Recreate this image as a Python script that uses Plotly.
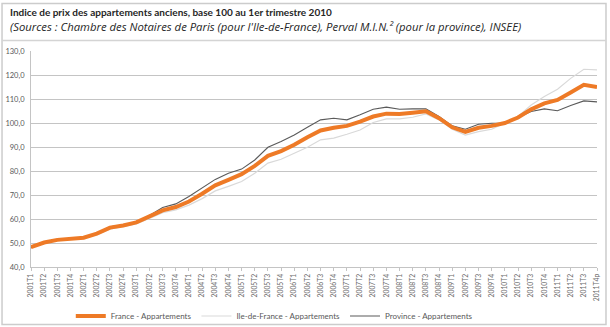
import plotly.graph_objects as go

# Quarter labels, 2001T1 .. 2011T4p (last quarter provisional)
quarters = [f"{y}T{q}" for y in range(2001, 2012) for q in range(1, 5)]
quarters[-1] = "2011T4p"

# Price indices, base 100 = 2010T1
france = [48.3, 50.2, 51.3, 51.9,
          52.2, 53.9, 56.4, 57.3,
          58.6, 61.1, 63.6, 65.0,
          67.3, 70.5, 74.0, 76.3,
          78.7, 82.1, 86.3, 88.3,
          90.9, 94.1, 96.9, 98.0,
          98.8, 100.6, 102.7, 103.9,
          103.8, 104.3, 104.9, 102.0,
          98.2, 96.3, 98.0, 98.8,
          100.0, 102.3, 105.7, 108.2,
          109.6, 112.7, 115.9, 115.0]

ile_de_france = [48.3, 50.2, 51.2, 51.8,
                 52.0, 53.5, 55.8, 56.8,
                 58.0, 60.2, 62.6, 63.8,
                 65.8, 68.5, 71.7, 73.6,
                 75.6, 79.1, 83.3, 84.9,
                 87.4, 89.9, 93.0, 93.7,
                 95.3, 97.1, 100.2, 101.7,
                 101.7, 102.4, 103.8, 101.3,
                 97.4, 95.0, 96.4, 97.4,
                 100.0, 102.7, 107.5, 111.0,
                 114.1, 118.6, 122.4, 122.1]

province = [48.0, 50.0, 51.2, 51.8,
            52.0, 54.0, 56.8, 57.6,
            58.8, 61.5, 64.8, 66.3,
            69.4, 72.9, 76.5, 79.1,
            80.8, 84.6, 89.9, 92.3,
            95.0, 98.2, 101.3, 102.0,
            101.3, 103.4, 105.7, 106.6,
            105.7, 105.9, 105.9, 102.7,
            98.8, 97.4, 99.5, 99.9,
            100.0, 102.3, 104.8, 105.9,
            105.1, 107.3, 109.2, 108.8]

y_ticks = [40, 50, 60, 70, 80, 90, 100, 110, 120, 130]

title_text = "Indice de prix des appartements anciens, base 100 au 1er trimestre 2010"
subtitle_text = ("(Sources : Chambre des Notaires de Paris (pour l'Ile-de-France), "
                 "Perval M.I.N.² (pour la province), INSEE)")

FONT = "Lato"
W, H = 610, 327
L, R, T, B = 30.5, 13, 51, 60
pw, ph = W - L - R, H - T - B


def px_x(x):
    return (x - L) / pw


def px_y(y):
    return (H - B - y) / ph


fig = go.Figure()

fig.add_trace(go.Scatter(
    x=quarters, y=ile_de_france, mode="lines", name="Ile-de-France - Appartements",
    line=dict(color="#d9d9d9", width=1.2), legendrank=2, hoverinfo="skip"))
fig.add_trace(go.Scatter(
    x=quarters, y=province, mode="lines", name="Province - Appartements",
    line=dict(color="#5a5a5a", width=1.1), legendrank=3, hoverinfo="skip"))
fig.add_trace(go.Scatter(
    x=quarters, y=france, mode="lines", name="France - Appartements",
    line=dict(color="#EE7A26", width=4), legendrank=1, hoverinfo="skip"))

fig.update_layout(
    width=W, height=H,
    margin=dict(l=L, r=R, t=T, b=B, autoexpand=False),
    paper_bgcolor="white", plot_bgcolor="white",
    separators=", ",
    font=dict(family=FONT, size=8, color="#595959"),
    showlegend=True,
    legend=dict(orientation="h", x=px_x(274), xanchor="center",
                y=px_y(316), yanchor="middle",
                font=dict(family=FONT, size=8, color="#595959"),
                itemwidth=30, bgcolor="rgba(0,0,0,0)"),
    xaxis=dict(type="category", tickangle=-90, showgrid=False,
               showline=True, linecolor="#c4c4c4", linewidth=1,
               ticks="outside", ticklen=3, tickcolor="#c4c4c4",
               tickfont=dict(family=FONT, size=6.8, color="#6a6a6a"),
               zeroline=False, fixedrange=True),
    yaxis=dict(range=[40, 130], tickvals=y_ticks, tickformat=".1f",
               showgrid=True, gridcolor="#c4c4c4", gridwidth=1,
               showline=True, linecolor="#c4c4c4", linewidth=1,
               ticks="", ticklabelstandoff=4,
               tickfont=dict(family=FONT, size=7.5, color="#595959"),
               zeroline=False, fixedrange=True),
    shapes=[
        dict(type="rect", xref="paper", yref="paper",
             x0=px_x(1.5), x1=px_x(606), y0=px_y(324.5), y1=px_y(3.5),
             line=dict(color="#cccccc", width=1.5), layer="below"),
        dict(type="line", xref="paper", yref="paper",
             x0=px_x(1.5), x1=px_x(606), y0=px_y(40.5), y1=px_y(40.5),
             line=dict(color="#d4d4d4", width=1.5), layer="below"),
    ],
    annotations=[
        dict(text=f"<b>{title_text}</b>", xref="paper", yref="paper",
             x=px_x(7), y=px_y(12), xanchor="left", yanchor="middle",
             showarrow=False, font=dict(family=FONT, size=10, color="#262626")),
        dict(text=f"<i>{subtitle_text}</i>", xref="paper", yref="paper",
             x=px_x(7), y=px_y(26.5), xanchor="left", yanchor="middle",
             showarrow=False, font=dict(family="Open Sans", size=11.3, color="#262626")),
    ],
)

fig.write_html("out.html")
